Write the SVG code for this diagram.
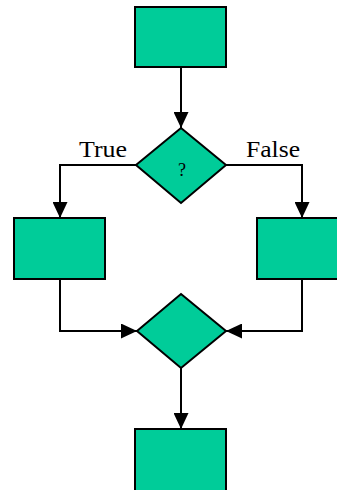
<svg xmlns="http://www.w3.org/2000/svg" width="337" height="490" viewBox="0 0 337 490">
<defs>
<style>
.n{fill:#00CC99;stroke:#000;stroke-width:2}
.c{fill:none;stroke:#000;stroke-width:2}
.t{font-family:"Liberation Serif","Times New Roman",serif;fill:#000}
</style>
<marker id="ah" viewBox="0 0 16 15" refX="16" refY="7.5" markerWidth="16" markerHeight="15" markerUnits="userSpaceOnUse" orient="auto">
<path d="M0,0 L16,7.5 L0,15 Z" fill="#000"/>
</marker>
</defs>
<rect width="337" height="490" fill="#fff"/>
<g id="connectors">
<path class="c" d="M181,67 V128" marker-end="url(#ah)"/>
<path class="c" d="M136,165 H60 V218" marker-end="url(#ah)"/>
<path class="c" d="M226,165 H302 V218" marker-end="url(#ah)"/>
<path class="c" d="M60,279 V331 H137" marker-end="url(#ah)"/>
<path class="c" d="M302,279 V331 H226" marker-end="url(#ah)"/>
<path class="c" d="M181,368 V429" marker-end="url(#ah)"/>
</g>
<g id="start"><rect class="n" x="135" y="7" width="91" height="60"/></g>
<g id="decision">
<polygon class="n" points="181,128 226,165 181,203 136,165"/>
<text class="t" x="182" y="176" font-size="18" text-anchor="middle">?</text>
</g>
<g id="label-true"><text class="t" x="79" y="156.5" font-size="23" textLength="48" lengthAdjust="spacingAndGlyphs">True</text></g>
<g id="label-false"><text class="t" x="246" y="156.5" font-size="23" textLength="54" lengthAdjust="spacingAndGlyphs">False</text></g>
<g id="left-box"><rect class="n" x="14" y="218" width="91" height="61"/></g>
<g id="right-box"><rect class="n" x="257" y="218" width="91" height="61"/></g>
<g id="merge"><polygon class="n" points="181,294 226,331 181,368 137,331"/></g>
<g id="end"><rect class="n" x="135" y="429" width="91" height="70"/></g>
</svg>
